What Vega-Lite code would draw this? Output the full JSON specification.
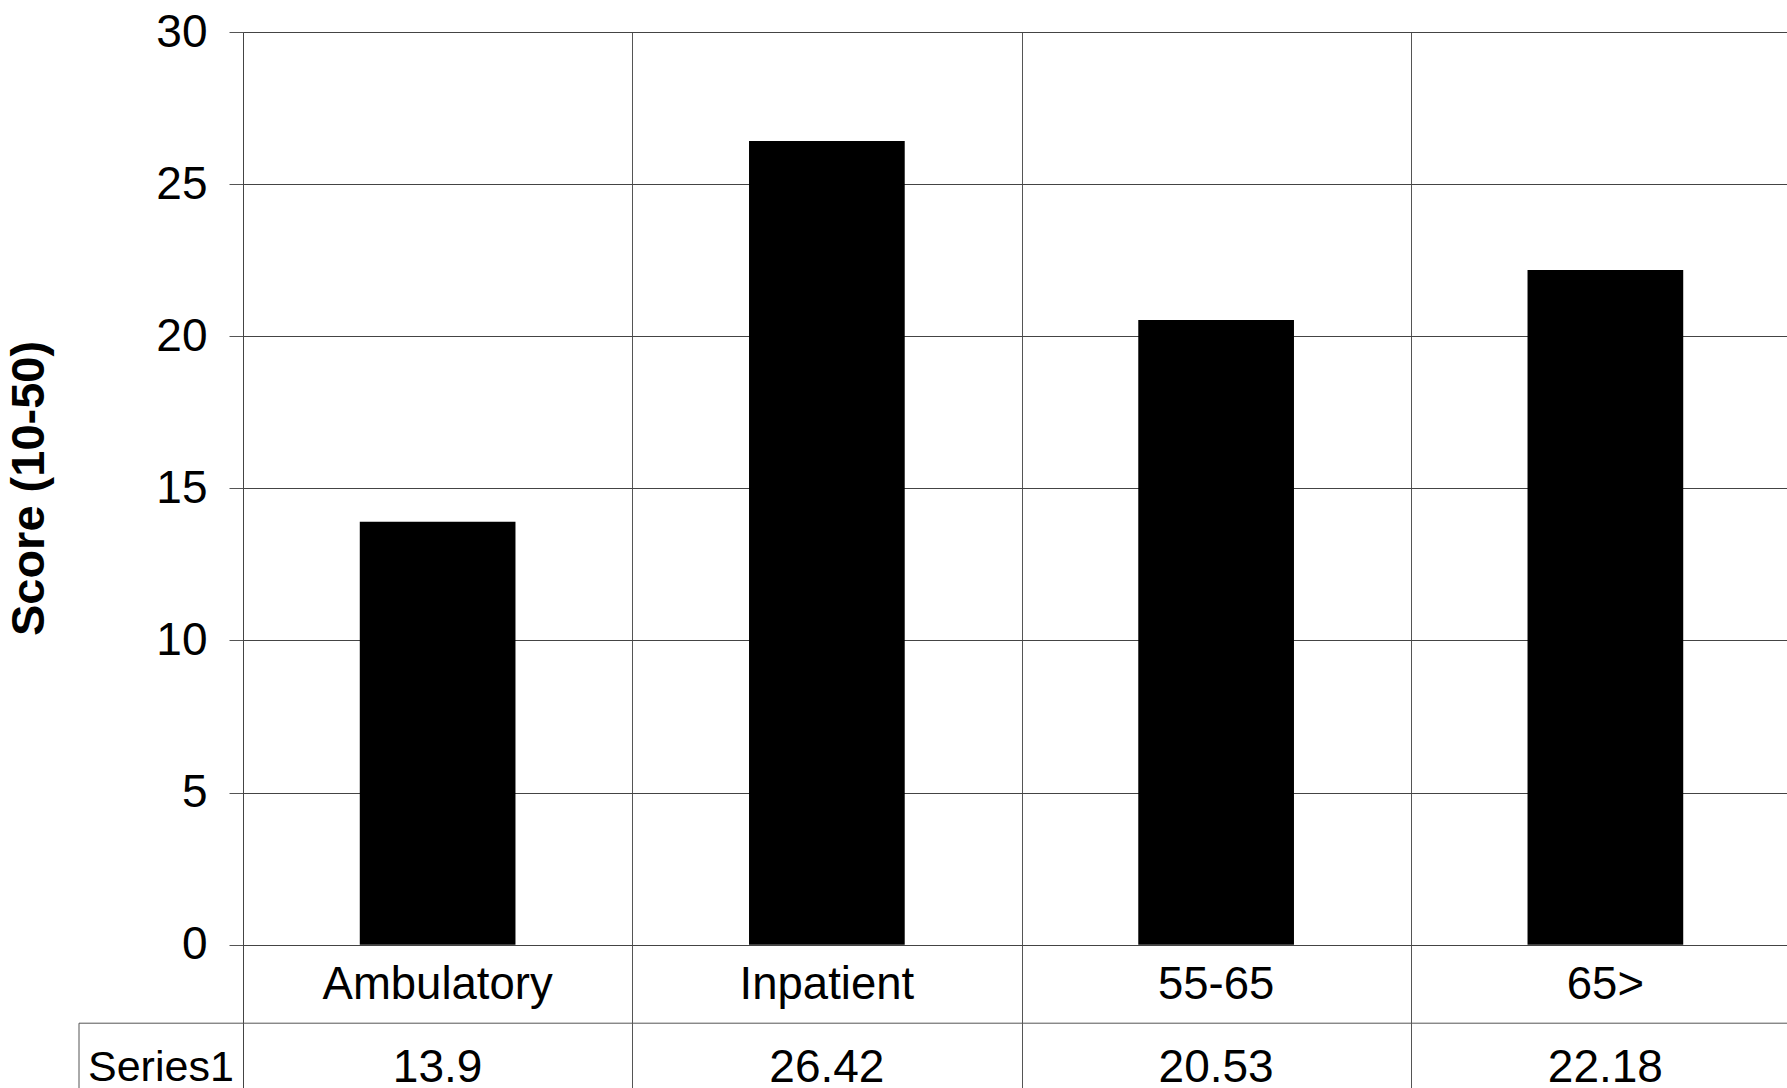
{
  "$schema": "https://vega.github.io/schema/vega-lite/v6.json",
  "width": 1544,
  "height": 1056,
  "padding": {"left": 243, "top": 32, "right": 0, "bottom": 0},
  "autosize": {"type": "none"},
  "background": "white",
  "config": {"view": {"stroke": null}, "font": "Liberation Sans"},
  "data": {"values": [
    {"category": "Ambulatory", "score": 13.9},
    {"category": "Inpatient", "score": 26.42},
    {"category": "55-65", "score": 20.53},
    {"category": "65>", "score": 22.18}
  ]},
  "layer": [
    {
      "layer": [
        {
          "mark": {"type": "bar", "color": "#000", "width": {"band": 0.4}},
          "encoding": {
            "x": {"field": "category", "type": "nominal", "sort": null,
                  "scale": {"range": [0, 1557], "paddingInner": 0, "paddingOuter": 0},
                  "axis": {"orient": "bottom", "labels": false, "ticks": false, "domain": false, "grid": true, "tickBand": "extent", "gridColor": "#555", "gridWidth": 1, "gridOpacity": 1, "title": null}},
            "y": {"field": "score", "type": "quantitative",
                  "scale": {"domain": [-4.71, 30], "nice": false, "zero": false},
                  "axis": {"values": [0, 5, 10, 15, 20, 25, 30], "title": "Score (10-50)",
                           "titleFontSize": 47, "titleFontWeight": "bold", "titleColor": "#000",
                           "titleX": -190, "titleY": 456, "titleAngle": 270, "titleBaseline": "bottom", "titleAlign": "center",
                           "labelFontSize": 46, "labelColor": "#000", "labelPadding": 22, "labelFlush": false, "labelOverlap": false,
                           "tickSize": 14, "tickColor": "#555", "domainColor": "#444", "grid": true, "gridColor": "#444", "gridOpacity": 1}}
          }
        },
        {
          "mark": {"type": "text", "fontSize": 45.5, "color": "#000", "baseline": "alphabetic", "align": "center"},
          "encoding": {
            "x": {"field": "category", "type": "nominal", "sort": null},
            "y": {"datum": -1.8, "type": "quantitative"},
            "text": {"field": "category", "type": "nominal"}
          }
        },
        {
          "mark": {"type": "text", "fontSize": 46, "color": "#000", "baseline": "alphabetic", "align": "center"},
          "encoding": {
            "x": {"field": "category", "type": "nominal", "sort": null},
            "y": {"datum": -4.5, "type": "quantitative"},
            "text": {"field": "score", "type": "quantitative"}
          }
        }
      ]
    },
    {
      "data": {"values": [{"row": "Series1"}]},
      "layer": [
        {
          "mark": {"type": "rule", "color": "#555", "strokeWidth": 1},
          "encoding": {
            "x": {"datum": 0, "type": "quantitative", "scale": {"domain": [0, 1], "range": [-164, 1544]}, "axis": null},
            "x2": {"datum": 1},
            "y": {"datum": -2.58, "type": "quantitative"}
          }
        },
        {
          "mark": {"type": "rule", "color": "#555", "strokeWidth": 1},
          "encoding": {
            "x": {"datum": 0, "type": "quantitative"},
            "y": {"datum": -2.58, "type": "quantitative"},
            "y2": {"datum": -4.71}
          }
        },
        {
          "mark": {"type": "text", "fontSize": 43, "color": "#000", "baseline": "alphabetic", "align": "left", "dx": 9},
          "encoding": {
            "x": {"datum": 0, "type": "quantitative"},
            "y": {"datum": -4.48, "type": "quantitative"},
            "text": {"field": "row", "type": "nominal"}
          }
        }
      ]
    }
  ],
  "resolve": {"scale": {"x": "independent"}}
}
